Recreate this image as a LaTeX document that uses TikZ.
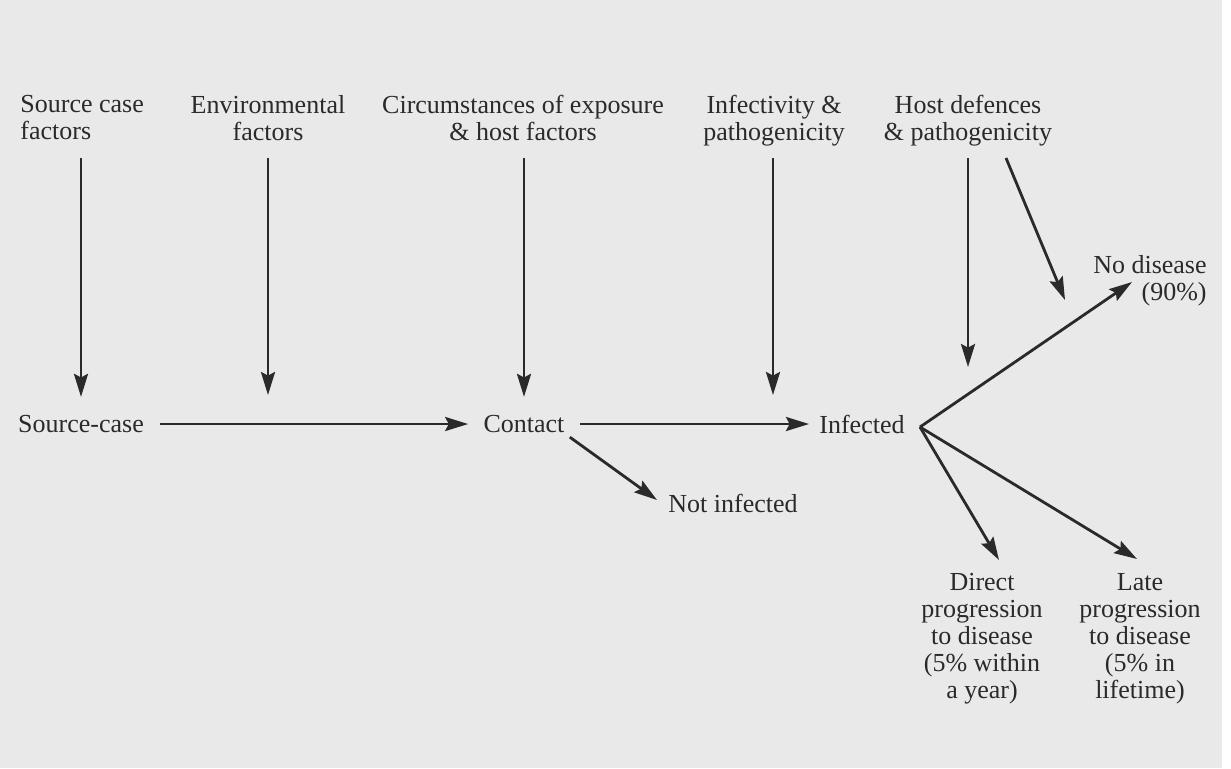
\documentclass[tikz,border=0pt]{standalone}
\usepackage{fontspec}
\setmainfont{Liberation Serif}
\usetikzlibrary{arrows.meta,positioning}
\definecolor{pageGrey}{RGB}{233,233,233}
\definecolor{inkGrey}{RGB}{42,42,42}

\begin{document}
\begin{tikzpicture}[x=0.5pt, y=-0.5pt, >={Stealth[length=11.5pt,width=7pt,inset=1.8pt]},
    lbl/.style={text=inkGrey, font=\fontsize{13}{13.5}\selectfont, inner sep=0pt, align=center},
    toplbl/.style={lbl, anchor=north},
    arr/.style={->, draw=inkGrey, line width=1.4pt}]
    % page
    \fill [pageGrey] (0,0) rectangle (1222,768);
    \fill [white] (1222,0) rectangle (1231,768);
    \useasboundingbox (0,0) rectangle (1231,768);

    % factors along the top
    \node [toplbl, align=left, anchor=north west] (srcfac) at (20,95) {Source case\\factors};
    \node [toplbl] (envfac) at (268,95) {Environmental\\factors};
    \node [toplbl] (expfac) at (523,95) {Circumstances of exposure\\\& host factors};
    \node [toplbl] (infecfac) at (774,95) {Infectivity \&\\pathogenicity};
    \node [toplbl] (hostfac) at (968,95) {Host defences\\\& pathogenicity};

    % main chain
    \node [lbl] (src) at (81,424) {Source-case};
    \node [lbl] (con) at (524,424) {Contact};
    \node [lbl] (inf) at (862,424) {Infected};
    \node [lbl, anchor=west] (notinf) at (668,503) {Not infected};

    % outcomes
    \node [lbl, align=right, anchor=north east] (nodis) at (1207,255) {No disease\\(90\%)};
    \node [toplbl] (direct) at (982,573) {Direct\\progression\\to disease\\(5\% within\\a year)};
    \node [toplbl] (late) at (1140,573) {Late\\progression\\to disease\\(5\% in\\lifetime)};

    \coordinate (envend) at (268,395);
    \coordinate (infecend) at (773,395);
    \coordinate (hostend) at (968,367);
    \coordinate (hoststart) at (1006,158);
    \coordinate (hostdiag) at (1065,300);
    \coordinate (fork) at ([shift={(15,3)}]inf.east);

    \draw [arr] (src.north |- 0,158) -- ([yshift=9pt]src.north);
    \draw [arr] (envend |- 0,158) -- (envend);
    \draw [arr] (con.north |- 0,158) -- ([yshift=9pt]con.north);
    \draw [arr] (infecend |- 0,158) -- (infecend);
    \draw [arr] (hostend |- hoststart) -- (hostend);
    \draw [arr] (hoststart) -- (hostdiag);

    \draw [arr, shorten <=8pt, shorten >=7.5pt] (src.east) -- (con.west);
    \draw [arr, shorten <=7.5pt, shorten >=5pt] (con.east) -- (inf.west);
    \draw [arr] ([shift={(5,4)}]con.south east) -- ([shift={(-11,-3)}]notinf.west);

    \draw [arr] (fork) -- ([shift={(-75,27)}]nodis.north east);
    \draw [arr] (fork) -- ([shift={(17,-13)}]direct.north);
    \draw [arr] (fork) -- ([shift={(-3,-14)}]late.north);
\end{tikzpicture}
\end{document}
